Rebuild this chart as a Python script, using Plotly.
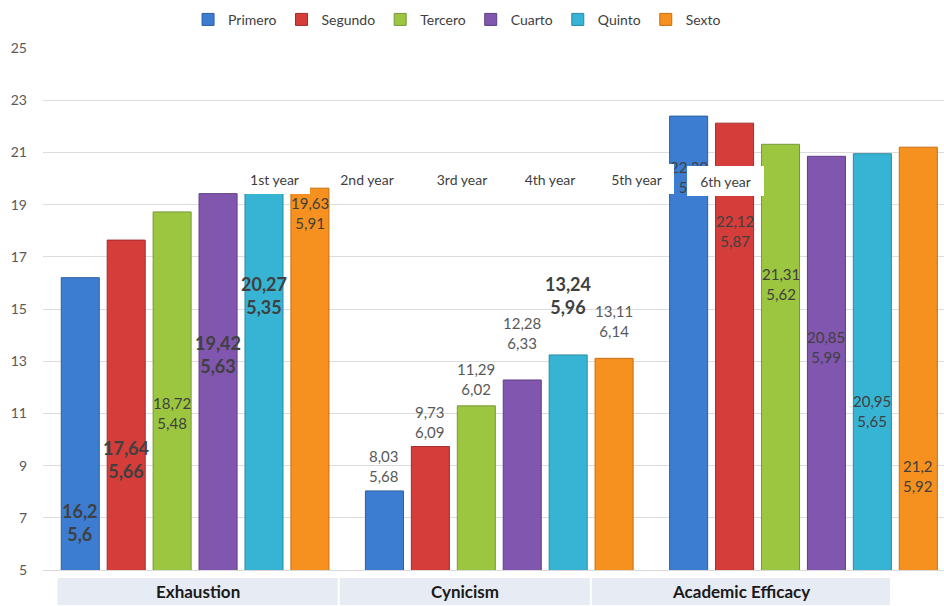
import plotly.graph_objects as go

# Burnout dimensions and course years
dimensions = ["Exhaustion", "Cynicism", "Academic Efficacy"]
series_names = ["Primero", "Segundo", "Tercero", "Cuarto", "Quinto", "Sexto"]
year_labels = ["1st year", "2nd year", "3rd year", "4th year", "5th year", "6th year"]

# Mean scores per course (one list per dimension, in series order)
means_exhaustion = [16.2, 17.64, 18.72, 19.42, 20.27, 19.63]
means_cynicism = [8.03, 9.73, 11.29, 12.28, 13.24, 13.11]
means_efficacy = [22.39, 22.12, 21.31, 20.85, 20.95, 21.2]

# Standard deviations per course
sd_exhaustion = [5.6, 5.66, 5.48, 5.63, 5.35, 5.91]
sd_cynicism = [5.68, 6.09, 6.02, 6.33, 5.96, 6.14]
sd_efficacy = [5.6, 5.87, 5.62, 5.99, 5.65, 5.92]

y_ticks = [5, 7, 9, 11, 13, 15, 17, 19, 21, 23, 25]

colors = ["#3c7dd2", "#d43d3a", "#9cc640", "#8056ae", "#37b4d4", "#f6901f"]
edge_colors = ["#2b5f9f", "#a32c2a", "#76983a", "#5f3f85", "#2a8aa4", "#c46f12"]

means = [means_exhaustion, means_cynicism, means_efficacy]
sds = [sd_exhaustion, sd_cynicism, sd_efficacy]

FONT = "Lato, 'Open Sans', sans-serif"

fig = go.Figure()
for s, name in enumerate(series_names):
    fig.add_trace(go.Bar(
        x=list(range(len(dimensions))),
        y=[means[d][s] for d in range(len(dimensions))],
        name=name,
        marker=dict(color=colors[s], line=dict(color=edge_colors[s], width=1)),
        hoverinfo="x+y+name",
    ))

bargap = 0.094
slot = (1 - bargap) / len(series_names)


def fmt(v):
    return f"{v:g}".replace(".", ",")


# vertical placement of each value label, and which labels are emphasised
label_y = [
    [6.82, 9.23, 11.02, 13.26, 15.52, 18.68],
    [8.98, 10.67, 12.32, 14.08, 15.52, 14.54],
    [20.05, 17.99, 15.96, 13.54, 11.09, 8.60],
]
label_bold = [
    [True, True, False, True, True, False],
    [False, False, False, False, True, False],
    [False] * 6,
]

annotations = []
for d in range(len(dimensions)):
    for s in range(len(series_names)):
        bold = label_bold[d][s]
        xc = d + (s - (len(series_names) - 1) / 2) * slot
        txt = f"{fmt(means[d][s])}<br>{fmt(sds[d][s])}"
        if bold:
            txt = f"<b>{fmt(means[d][s])}</b><br><b>{fmt(sds[d][s])}</b>"
        color = "#404040"
        if d == 1 and not bold:
            color = "#595959"
        annotations.append(dict(
            x=xc, y=label_y[d][s], xref="x", yref="y", text=txt, showarrow=False,
            font=dict(family=FONT, size=18 if bold else 15, color=color),
            xanchor="center", yanchor="middle", align="center",
        ))

# course-year captions on white boxes
year_x_px = [275, 367, 462, 550, 637, 726]
year_w_px = [71, 58, 58, 58, 75, 77]
year_y = [20.0, 20.0, 20.0, 20.0, 20.0, 19.9]
for i, lab in enumerate(year_labels):
    annotations.append(dict(
        x=(year_x_px[i] - 195.5) / 304, y=year_y[i], xref="x", yref="y",
        text=lab, showarrow=False, bgcolor="white", width=year_w_px[i], height=30,
        borderpad=0, borderwidth=0,
        font=dict(family=FONT, size=14, color="#404040"),
        xanchor="center", yanchor="middle",
    ))

# category captions on tinted boxes below the axis
cat_boxes = [(58, 338), (340, 590), (592, 890)]
shapes = []
for (x0, x1), name in zip(cat_boxes, dimensions):
    shapes.append(dict(
        type="rect", xref="x", yref="paper",
        x0=(x0 - 195.5) / 304, x1=(x1 - 195.5) / 304, y0=-0.0153, y1=-0.067,
        fillcolor="#e7ebf3", line=dict(width=0), layer="below",
    ))
    annotations.append(dict(
        x=((x0 + x1) / 2 - 195.5) / 304, y=-0.041, xref="x", yref="paper",
        text=f"<b>{name}</b>", showarrow=False,
        font=dict(family=FONT, size=17, color="#1a1a1a"),
        xanchor="center", yanchor="middle",
    ))

fig.update_layout(
    width=944, height=606,
    margin=dict(l=43, r=0, t=48, b=36),
    paper_bgcolor="white", plot_bgcolor="white",
    barmode="group", bargap=bargap, bargroupgap=0.172,
    font=dict(family=FONT, color="#404040"),
    showlegend=True,
    legend=dict(
        orientation="h", x=0.161, xanchor="left", y=1.054, yanchor="middle",
        font=dict(family=FONT, size=14, color="#404040"),
        itemwidth=30, tracegroupgap=0, bgcolor="rgba(0,0,0,0)",
    ),
    xaxis=dict(
        range=[-0.5, 2.462], showticklabels=False, showgrid=False, zeroline=False,
        showline=True, linecolor="#d9d9d9", linewidth=1, ticks="",
    ),
    yaxis=dict(
        range=[5, 25], tickvals=y_ticks, ticktext=[str(v) for v in y_ticks],
        showgrid=True, gridcolor="#dcdcdc", gridwidth=1, zeroline=False,
        tickfont=dict(family=FONT, size=14, color="#595959"), ticks="",
        ticklabelstandoff=15,
    ),
    annotations=annotations,
    shapes=shapes,
)

fig.write_html("out.html")
